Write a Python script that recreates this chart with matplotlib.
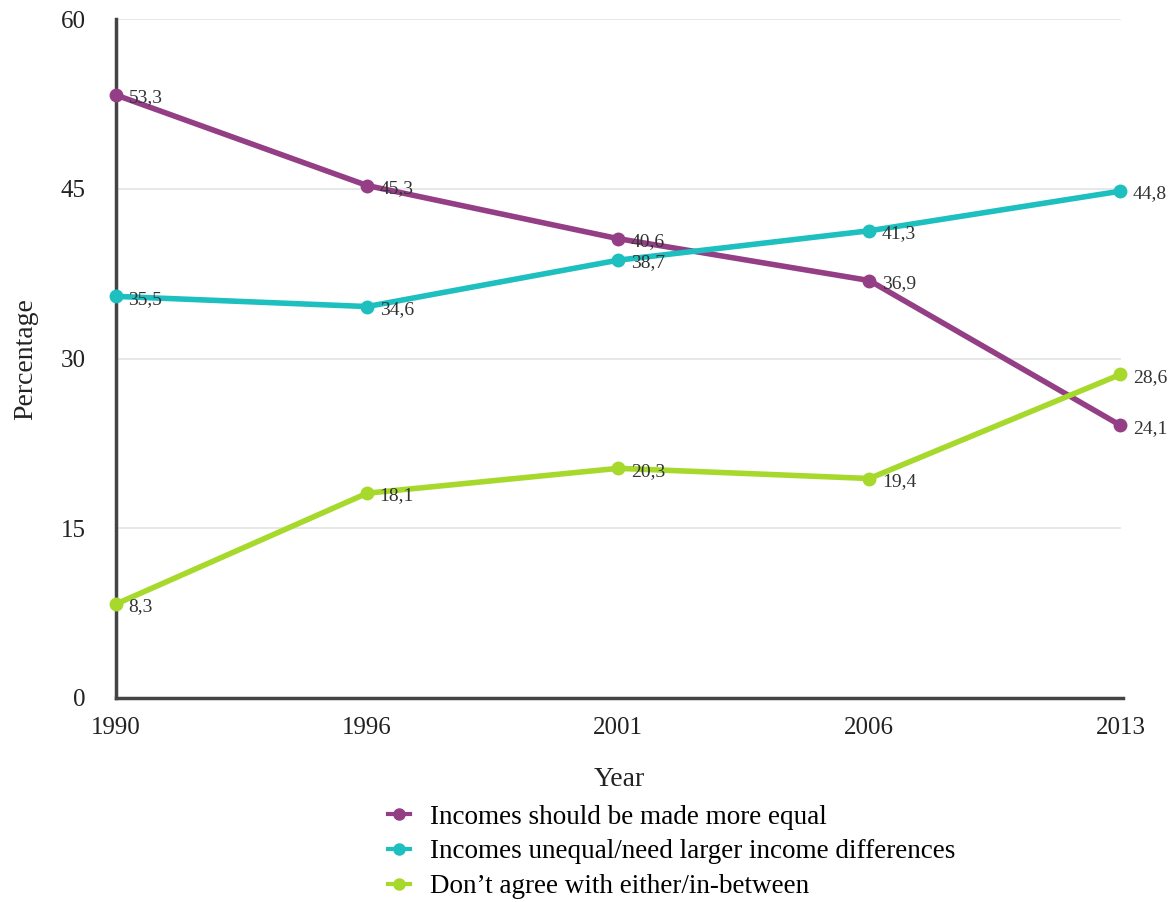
import matplotlib.pyplot as plt
from matplotlib.lines import Line2D

plt.rcParams['font.family'] = ['Liberation Serif', 'DejaVu Serif']

years = ['1990', '1996', '2001', '2006', '2013']
more_equal = [53.3, 45.3, 40.6, 36.9, 24.1]
larger_diff = [35.5, 34.6, 38.7, 41.3, 44.8]
in_between = [8.3, 18.1, 20.3, 19.4, 28.6]

labels = ['Incomes should be made more equal',
          'Incomes unequal/need larger income differences',
          'Don\u2019t agree with either/in-between']
colors = ['#943e86', '#1dbfbf', '#a6d92b']

fig = plt.figure(figsize=(11.75, 9.02), dpi=100)
ax = fig.add_axes([0.0987, 0.2262, 0.857, 0.7525])

x = list(range(len(years)))
for vals, lab, col in zip([more_equal, larger_diff, in_between], labels, colors):
    ax.plot(x, vals, color=col, lw=4, marker='o', ms=9, zorder=3, clip_on=False)
    for xi, v in zip(x, vals):
        ax.annotate(f'{v:.1f}'.replace('.', ','), (xi, v), xytext=(9, -2),
                    textcoords='offset points', ha='left', va='center',
                    fontsize=14, color='#333333', zorder=4)

ax.set_xlim(0, 4.01)
ax.set_ylim(0, 60)
ax.set_yticks([0, 15, 30, 45, 60])
ax.set_xticks(x)
ax.set_xticklabels(years)
for yv in [15, 30, 45, 60]:
    ax.plot([0, 4], [yv, yv], color='#e3e3e3', lw=1.2, zorder=1)

for s in ['top', 'right']:
    ax.spines[s].set_visible(False)
for s in ['left', 'bottom']:
    ax.spines[s].set_color('#444444')
    ax.spines[s].set_linewidth(2.5)
ax.tick_params(length=0, labelsize=18, colors='#222222')
ax.tick_params(axis='x', pad=14)
ax.tick_params(axis='y', pad=22)

ax.set_xlabel('Year', fontsize=20, color='#222222', labelpad=20)
ax.set_ylabel('Percentage', fontsize=20, color='#222222', labelpad=16)

handles = [Line2D([], [], color=c, lw=3, marker='o', ms=8) for c in colors]
fig.legend(handles, labels, loc='upper left', bbox_to_anchor=(0.319, 0.123),
           frameon=False, fontsize=19.5, handlelength=0.8, handletextpad=0.75,
           labelspacing=0.36, borderpad=0)

fig.savefig('out.png', dpi=100)
